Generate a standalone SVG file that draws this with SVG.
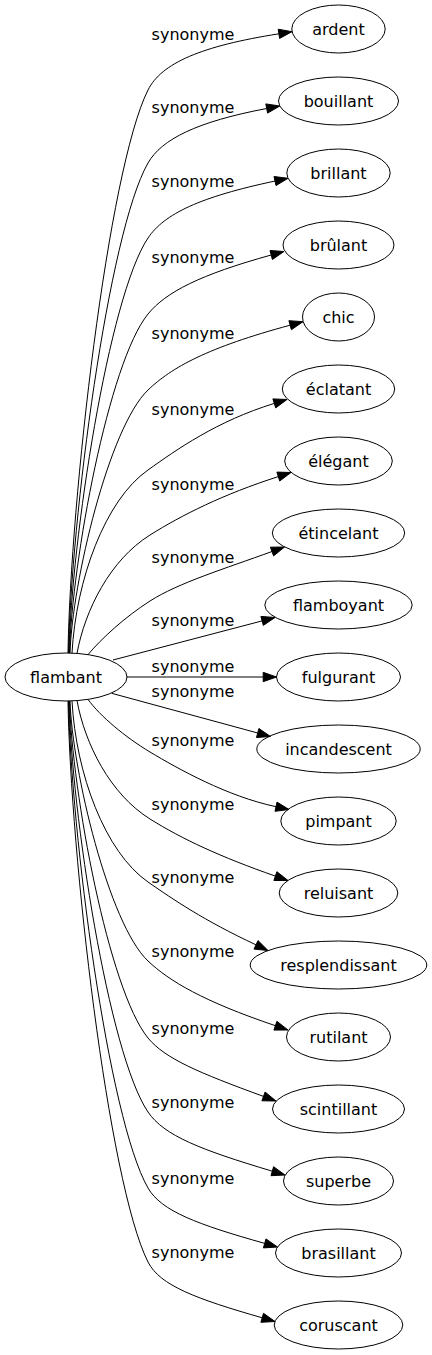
<svg xmlns="http://www.w3.org/2000/svg" width="432" height="1355" viewBox="0 0 432 1355">
<style>
.n ellipse{fill:none;stroke:#000;stroke-width:1}
.n text,.lbl{font-family:"DejaVu Sans","Liberation Sans",sans-serif;font-size:16px;fill:#000;text-anchor:middle}
.e path{fill:none;stroke:#000;stroke-width:1}
.e polygon{fill:#000;stroke:#000;stroke-width:1}
</style>
<rect x="0" y="0" width="432" height="1355" fill="#fff"/>
<g id="connectors">
<g class="e" id="e0"><path d="M68,653 C70.4,501 108,169.9 148,90 C161.5,63.1 201.3,46 278.9,33.8"/><polygon points="292,31.7 279.6,38.4 278.2,29.2"/><text class="lbl" x="193" y="39.5">synonyme</text></g>
<g class="e" id="e1"><path d="M68.5,653 C70.9,520.7 108.25,232.6 148,163 C161.5,139.3 196.8,121.7 266.7,108.5"/><polygon points="279.8,106 267.6,113.1 265.8,103.9"/><text class="lbl" x="193" y="112.7">synonyme</text></g>
<g class="e" id="e2"><path d="M69,653 C71.4,541 108.5,296.9 148,238 C164.3,213.7 200.5,196.8 275,181.05"/><polygon points="288,178.3 276,185.6 274,176.5"/><text class="lbl" x="193" y="187">synonyme</text></g>
<g class="e" id="e3"><path d="M69.5,653 C71.9,561.5 108.75,362.1 148,314 C165.9,292.1 200,274.7 271.2,255"/><polygon points="284,251.5 272.4,259.5 270,250.5"/><text class="lbl" x="193" y="263">synonyme</text></g>
<g class="e" id="e4"><path d="M70,653 C72.3,582 109,427.3 148,390 C171.6,367.4 207.75,347.4 290.15,325.2"/><polygon points="303,321.7 291.4,329.7 288.9,320.7"/><text class="lbl" x="193" y="339">synonyme</text></g>
<g class="e" id="e5"><path d="M72,653.1 C76,580 105,500 148,470 C176,450 216.9,421 274.3,403.4"/><polygon points="287,399.5 275.7,407.9 272.9,398.9"/><text class="lbl" x="193" y="415">synonyme</text></g>
<g class="e" id="e6"><path d="M77,653.4 C85,610 110,560 150,535 C182,515 223.1,494.3 278.3,476.6"/><polygon points="291,472.5 279.7,481 276.9,472.1"/><text class="lbl" x="193" y="490">synonyme</text></g>
<g class="e" id="e7"><path d="M88,654.6 C102,638 125,617 150,601 C178,583 225,568.6 272,551.5"/><polygon points="284.5,547 273.6,555.9 270.4,547.2"/><text class="lbl" x="193" y="563">synonyme</text></g>
<g class="e" id="e8"><path d="M113,660 L262.1,620.9"/><polygon points="275,617.5 263.3,625.4 260.9,616.4"/><text class="lbl" x="193" y="626">synonyme</text></g>
<g class="e" id="e9"><path d="M126.8,677 L263.2,677"/><polygon points="276.5,677 263.2,672.33 263.2,681.67"/><text class="lbl" x="193" y="672.3">synonyme</text></g>
<g class="e" id="e10"><path d="M111.7,693.3 L257.7,733"/><polygon points="270.5,736.5 256.5,737.5 258.9,728.5"/><text class="lbl" x="193" y="697">synonyme</text></g>
<g class="e" id="e11"><path d="M88,699.4 C100,716 125,737 150,752 C178,768.8 227.1,796.3 276,806.7"/><polygon points="289,809.5 275,811.3 277,802.1"/><text class="lbl" x="193" y="746">synonyme</text></g>
<g class="e" id="e12"><path d="M77,700.6 C85,744 110,794 150,819 C182,839 220.6,857 275.4,876.1"/><polygon points="288,880.5 273.9,880.5 276.9,871.7"/><text class="lbl" x="193" y="810">synonyme</text></g>
<g class="e" id="e13"><path d="M72,700.9 C76,774 105,852 148,882 C174,900 203.5,920.2 256,944.85"/><polygon points="268,950.5 254,949.1 258,940.6"/><text class="lbl" x="193" y="883">synonyme</text></g>
<g class="e" id="e14"><path d="M70,701 C72.3,771.2 109,924.1 148,961 C169.3,981.1 203,1001.2 275.4,1025.7"/><polygon points="288,1030 273.9,1030.1 276.9,1021.3"/><text class="lbl" x="193" y="957">synonyme</text></g>
<g class="e" id="e15"><path d="M69.5,701 C71.9,792 108.75,990.1 148,1038 C164.9,1058.6 198.4,1072.6 263.5,1096.4"/><polygon points="276,1101 261.9,1100.8 265.1,1092"/><text class="lbl" x="193" y="1034">synonyme</text></g>
<g class="e" id="e16"><path d="M69,701 C71.4,812 108.5,1053.6 148,1112 C164,1135.7 200.8,1149.8 272.3,1171.2"/><polygon points="285,1175 271,1175.7 273.6,1166.7"/><text class="lbl" x="193" y="1108">synonyme</text></g>
<g class="e" id="e17"><path d="M68.5,701 C70.9,832.5 108.25,1118.8 148,1188 C161.3,1211.2 197.4,1224.4 264.7,1243.4"/><polygon points="277.5,1247 263.4,1247.9 266,1238.9"/><text class="lbl" x="193" y="1184">synonyme</text></g>
<g class="e" id="e18"><path d="M68,701 C70.4,852.5 108,1182.3 148,1262 C159.8,1285.5 196.4,1298.9 262.2,1317.8"/><polygon points="275,1321.5 260.9,1322.3 263.5,1313.3"/><text class="lbl" x="193" y="1258">synonyme</text></g>
</g>
<g id="n-flambant" class="n"><ellipse cx="66" cy="677" rx="61" ry="24"/><text x="66" y="682.6">flambant</text></g>
<g id="n-ardent" class="n"><ellipse cx="338.5" cy="29" rx="46.7" ry="24"/><text x="338.5" y="34.6">ardent</text></g>
<g id="n-bouillant" class="n"><ellipse cx="338.5" cy="101" rx="60" ry="24"/><text x="338.5" y="106.6">bouillant</text></g>
<g id="n-brillant" class="n"><ellipse cx="338.5" cy="173" rx="51.7" ry="24"/><text x="338.5" y="178.6">brillant</text></g>
<g id="n-brulant" class="n"><ellipse cx="338.5" cy="245" rx="55.5" ry="24"/><text x="338.5" y="250.6">brûlant</text></g>
<g id="n-chic" class="n"><ellipse cx="338.5" cy="317" rx="36" ry="24"/><text x="338.5" y="322.6">chic</text></g>
<g id="n-eclatant" class="n"><ellipse cx="338.5" cy="389" rx="56.2" ry="24"/><text x="338.5" y="394.6">éclatant</text></g>
<g id="n-elegant" class="n"><ellipse cx="338.5" cy="461" rx="53.8" ry="24"/><text x="338.5" y="466.6">élégant</text></g>
<g id="n-etincelant" class="n"><ellipse cx="338.5" cy="533" rx="66.2" ry="24"/><text x="338.5" y="538.6">étincelant</text></g>
<g id="n-flamboyant" class="n"><ellipse cx="338.5" cy="605" rx="73.7" ry="24"/><text x="338.5" y="610.6">flamboyant</text></g>
<g id="n-fulgurant" class="n"><ellipse cx="338.5" cy="677" rx="62" ry="24"/><text x="338.5" y="682.6">fulgurant</text></g>
<g id="n-incandescent" class="n"><ellipse cx="338.5" cy="749" rx="81.7" ry="24"/><text x="338.5" y="754.6">incandescent</text></g>
<g id="n-pimpant" class="n"><ellipse cx="338.5" cy="821" rx="57.7" ry="24"/><text x="338.5" y="826.6">pimpant</text></g>
<g id="n-reluisant" class="n"><ellipse cx="338.5" cy="893" rx="59.3" ry="24"/><text x="338.5" y="898.6">reluisant</text></g>
<g id="n-resplendissant" class="n"><ellipse cx="338.5" cy="965" rx="88.3" ry="24"/><text x="338.5" y="970.6">resplendissant</text></g>
<g id="n-rutilant" class="n"><ellipse cx="338.5" cy="1037" rx="52" ry="24"/><text x="338.5" y="1042.6">rutilant</text></g>
<g id="n-scintillant" class="n"><ellipse cx="338.5" cy="1109" rx="66" ry="24"/><text x="338.5" y="1114.6">scintillant</text></g>
<g id="n-superbe" class="n"><ellipse cx="338.5" cy="1181" rx="55" ry="24"/><text x="338.5" y="1186.6">superbe</text></g>
<g id="n-brasillant" class="n"><ellipse cx="338.5" cy="1253" rx="63" ry="24"/><text x="338.5" y="1258.6">brasillant</text></g>
<g id="n-coruscant" class="n"><ellipse cx="338.5" cy="1325" rx="64.3" ry="24"/><text x="338.5" y="1330.6">coruscant</text></g>
</svg>
